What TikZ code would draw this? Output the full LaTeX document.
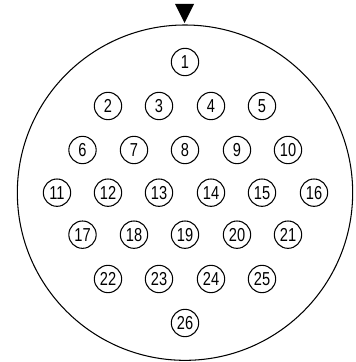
\documentclass[tikz,border=0pt]{standalone}
\usepackage{fontspec}
\setmainfont[FakeStretch=0.78]{Liberation Sans}
\tikzset{
  pin/.style={draw, circle, line width=0.9pt, inner sep=0pt, minimum size=0.82cm, font=\fontsize{16}{16}\selectfont},
  shell/.style={draw, circle, line width=0.9pt, inner sep=0pt, minimum size=10.06cm}
}
\begin{document}
\begin{tikzpicture}
\useasboundingbox (0,0) rectangle (10.65,10.86);

% Connector body and key mark
\node[shell] (body) at (5.55, 5.08) {};
\fill (5.25, 10.74) -- (5.82, 10.74) -- (5.535, 10.17) -- cycle;

% Contacts, row by row
\node[pin] (pin1) at (5.55, 9.00) {1};
\node[pin] (pin2) at (3.24, 7.68) {2};
\node[pin] (pin3) at (4.77, 7.68) {3};
\node[pin] (pin4) at (6.33, 7.68) {4};
\node[pin] (pin5) at (7.86, 7.68) {5};
\node[pin] (pin6) at (2.475, 6.36) {6};
\node[pin] (pin7) at (4.02, 6.36) {7};
\node[pin] (pin8) at (5.55, 6.36) {8};
\node[pin] (pin9) at (7.11, 6.36) {9};
\node[pin] (pin10) at (8.64, 6.36) {10};
\node[pin] (pin11) at (1.71, 5.08) {11};
\node[pin] (pin12) at (3.24, 5.08) {12};
\node[pin] (pin13) at (4.77, 5.08) {13};
\node[pin] (pin14) at (6.33, 5.08) {14};
\node[pin] (pin15) at (7.86, 5.08) {15};
\node[pin] (pin16) at (9.42, 5.08) {16};
\node[pin] (pin17) at (2.475, 3.82) {17};
\node[pin] (pin18) at (4.02, 3.82) {18};
\node[pin] (pin19) at (5.55, 3.82) {19};
\node[pin] (pin20) at (7.11, 3.82) {20};
\node[pin] (pin21) at (8.64, 3.82) {21};
\node[pin] (pin22) at (3.24, 2.49) {22};
\node[pin] (pin23) at (4.77, 2.49) {23};
\node[pin] (pin24) at (6.33, 2.49) {24};
\node[pin] (pin25) at (7.86, 2.49) {25};
\node[pin] (pin26) at (5.55, 1.17) {26};
\end{tikzpicture}
\end{document}
